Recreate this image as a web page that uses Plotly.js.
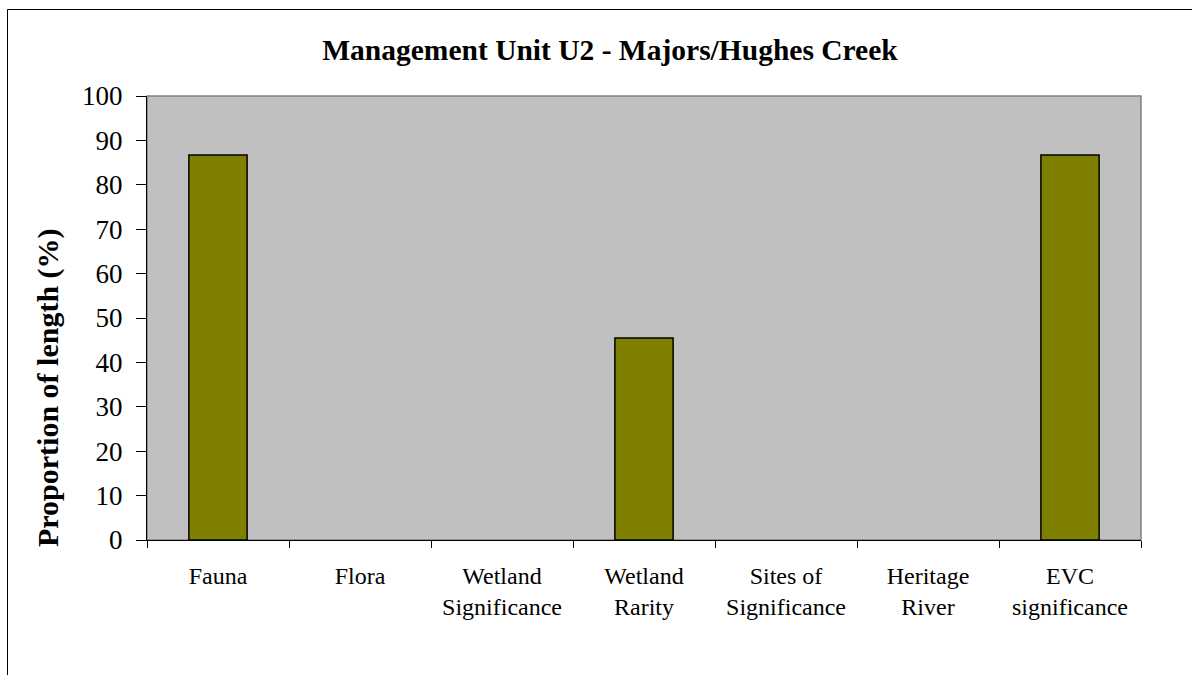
<!DOCTYPE html>
<html>
<head>
<meta charset="utf-8">
<script src="https://cdn.plot.ly/plotly-3.0.1.min.js"></script>
<style>html,body{margin:0;padding:0;background:#fff;}#chart{width:1192px;height:675px;}</style>
</head>
<body>
<div id="chart"></div>
<script>
var categories = ["Fauna", "Flora", "Wetland<br>Significance", "Wetland<br>Rarity", "Sites of<br>Significance", "Heritage<br>River", "EVC<br>significance"];
var values = [86.7, 0, 0, 45.5, 0, 0, 86.7];
var yTicks = [0, 10, 20, 30, 40, 50, 60, 70, 80, 90, 100];
var titleText = "Management Unit U2 - Majors/Hughes Creek";
var yTitle = "Proportion of length (%)";

var L = 147, R = 1141, T = 96, B = 540, W = 1192, H = 675;
function px(x){ return (x - L) / (R - L); }
function py(y){ return (B - y) / (B - T); }

var font = "Liberation Serif, Times New Roman, serif";

var trace = {
  type: "bar",
  x: categories,
  y: values,
  marker: {color: "#808000", line: {color: "#000000", width: values.map(function(v){ return v > 0 ? 1.5 : 0; })}},
  width: 0.41,
  hoverinfo: "none"
};

var layout = {
  width: W, height: H,
  margin: {l: L, r: W - R, t: T, b: H - B, pad: 0},
  paper_bgcolor: "#ffffff",
  plot_bgcolor: "#c0c0c0",
  showlegend: false,
  title: {
    text: "<b>" + titleText + "</b>",
    font: {family: font, size: 29.5, color: "#000"},
    x: px(610), xanchor: "center", xref: "paper",
    y: 1 - 50/H, yanchor: "middle"
  },
  xaxis: {
    type: "category",
    tickson: "boundaries",
    ticks: "outside", ticklen: 7, tickwidth: 1, tickcolor: "#000",
    ticklabelstandoff: 14,
    showline: true, linecolor: "#000", linewidth: 1,
    showgrid: false, zeroline: false,
    tickfont: {family: font, size: 24, color: "#000"},
    fixedrange: true
  },
  yaxis: {
    range: [0, 100],
    tickvals: yTicks,
    ticktext: yTicks.map(String),
    ticks: "outside", ticklen: 10, tickwidth: 1, tickcolor: "#000",
    ticklabelstandoff: 8,
    showline: true, linecolor: "#000", linewidth: 1,
    showgrid: false, zeroline: false,
    tickfont: {family: font, size: 27, color: "#000"},
    fixedrange: true
  },
  annotations: [
    {text: "<b>" + yTitle + "</b>", textangle: -90, xref: "paper", yref: "paper",
     x: px(48), y: py(388), xanchor: "center", yanchor: "middle", showarrow: false,
     font: {family: font, size: 30, color: "#000"}}
  ],
  shapes: [
    {type: "rect", xref: "paper", yref: "paper", x0: 0, x1: 1, y0: 0, y1: 1,
     line: {color: "#808080", width: 1.5}, fillcolor: "rgba(0,0,0,0)", layer: "below"},
    {type: "rect", xref: "paper", yref: "paper", x0: px(7.5), x1: px(1210), y0: py(700), y1: py(9.5),
     line: {color: "#000", width: 1}, fillcolor: "rgba(0,0,0,0)"}
  ]
};

Plotly.newPlot("chart", [trace], layout, {displayModeBar: false, staticPlot: true});
</script>
</body>
</html>
